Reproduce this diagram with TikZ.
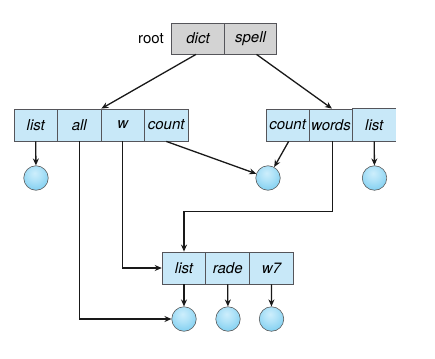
\documentclass[tikz,border=0pt]{standalone}
\usepackage{fontspec}
\setmainfont{TeX Gyre Heros}
\usetikzlibrary{arrows.meta,calc}
\definecolor{cellblue}{RGB}{200,232,248}
\definecolor{rootgray}{RGB}{211,211,211}
\definecolor{ballblue}{RGB}{110,200,238}
\definecolor{balllight}{RGB}{205,238,252}
\definecolor{lineclr}{RGB}{85,85,90}
\pgfdeclareradialshading{myball}{\pgfpoint{-3bp}{10bp}}{color(0bp)=(balllight); color(14bp)=(balllight!70!ballblue); color(40bp)=(ballblue); color(52bp)=(ballblue!85!black); color(100bp)=(ballblue!85!black)}
\begin{document}
\begin{tikzpicture}[x=1pt,y=-1pt,
  cellline/.style={draw=lineclr,line width=0.8pt},
  cell/.style={cellline,fill=cellblue,minimum height=32pt,minimum width=43.5pt,inner sep=0pt,font=\fontsize{15}{17}\selectfont\itshape},
  rootcell/.style={cell,fill=rootgray,minimum height=31pt,minimum width=52.5pt},
  ball/.style={circle,draw=black!65,line width=0.6pt,shading=myball,minimum size=24.5pt,inner sep=0pt},
  arr/.style={line width=1.3pt,draw=black!90,-{Stealth[length=7pt,width=6pt]}}]
\useasboundingbox (0,0) rectangle (435,358);
% root
\node[font=\fontsize{15}{17}\selectfont] (rootlbl) at (151,39) {root};
\node[rootcell] (dict) at (198,38.5) {dict};
\node[rootcell] (spell) at (250.5,38.5) {spell};
% left box
\node[cell] (llist) at (35.75,125) {list};
\node[cell] (all) at (79.25,125) {all};
\node[cell] (w) at (122.75,125) {w};
\node[cell] (lcount) at (166.25,125) {count};
% right box
\node[cell,minimum width=43.3pt] (rcount) at (287.65,125) {count};
\node[cell,minimum width=43.3pt] (rwords) at (330.95,125) {words};
\node[cell,minimum width=43.3pt,draw=none] (rlist) at (374.25,125) {list};
\draw[cellline] (rlist.north west) -- (rlist.north east);
\draw[cellline] (rlist.south west) -- (rlist.south east);
% bottom box
\node[cell,minimum width=43.7pt] (blist) at (184,268) {list};
\node[cell,minimum width=43.7pt] (brade) at (227.7,268) {rade};
\node[cell,minimum width=43.7pt] (bw7) at (271.4,268) {w7};
% circles
\node[ball] (c1) at (36,178) {};
\node[ball] (c2) at (268,178) {};
\node[ball] (c3) at (374.5,178) {};
\node[ball] (b1) at (184,319) {};
\node[ball] (b2) at (228,319) {};
\node[ball] (b3) at (271.5,319) {};
% connectors
\draw[arr] ([xshift=-2pt]dict.south) -- (all.north east);
\draw[arr] ([xshift=6pt]spell.south) -- ([xshift=1pt]rwords.north);
\draw[arr] (llist.south) -- (c1);
\draw[arr] (all.south) |- (b1.west);
\draw[arr] (w.south) |- (blist.west);
\draw[arr] (lcount.south) -- (c2);
\draw[arr] ([xshift=1pt]rcount.south) -- (c2);
\draw[arr] ([xshift=1.5pt]rwords.south) -- ++(0,70) -| (blist.north);
\draw[arr] (rlist.south) -- (c3);
\draw[arr] (blist.south) -- (b1);
\draw[arr] (brade.south) -- (b2);
\draw[arr] (bw7.south) -- (b3);
\end{tikzpicture}
\end{document}
